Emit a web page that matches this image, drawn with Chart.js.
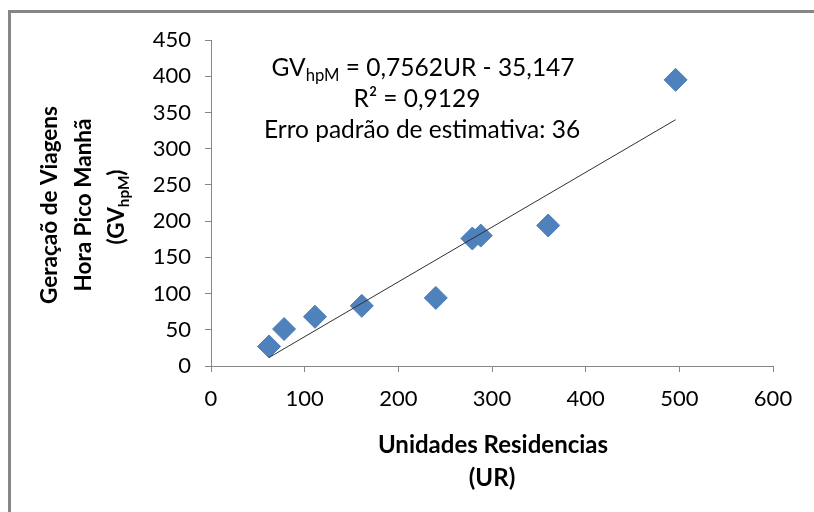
<!DOCTYPE html>
<html>
<head>
<meta charset="utf-8">
<script src="https://cdn.jsdelivr.net/npm/chart.js@4.4.0/dist/chart.umd.min.js"></script>
<style>
  html, body { margin: 0; padding: 0; background: #fff; }
  #wrap { width: 814px; height: 512px; position: relative; }
</style>
</head>
<body>
<div id="wrap"><canvas id="chartjs-0" width="814" height="512"></canvas></div>
<script>
// values
var urValues = [62, 78, 111, 161, 240, 279, 288, 360, 496];
var gvValues = [27, 51, 68, 83, 94, 176, 180, 194, 395];
var xTicks = [0, 100, 200, 300, 400, 500, 600];
var yTicks = [0, 50, 100, 150, 200, 250, 300, 350, 400, 450];

// trendline from the equation on the chart
var slope = 0.7562;
var intercept = -35.147;
var rSquared = "0,9129";
var stdError = "36";

var FONT = "Lato, 'Open Sans', sans-serif";
var GRAY = "#868686";

var points = [];
for (var i = 0; i < urValues.length; i++) {
    points.push({ x: urValues[i], y: gvValues[i] });
}
var xMin = Math.min.apply(null, urValues);
var xMax = Math.max.apply(null, urValues);
var trend = [
    { x: xMin, y: slope * xMin + intercept },
    { x: xMax, y: slope * xMax + intercept }
];

// draws a line made of parts, some of them as subscripts, centred on cx
function drawParts(ctx, parts, cx, cy, size, weight) {
    var total = 0;
    parts.forEach(function (p) {
        ctx.font = weight + " " + (p.sub ? size * 0.68 : size) + "px " + FONT;
        p.w = ctx.measureText(p.t).width;
        total += p.w;
    });
    var x = cx - total / 2;
    parts.forEach(function (p) {
        ctx.font = weight + " " + (p.sub ? size * 0.68 : size) + "px " + FONT;
        ctx.fillText(p.t, x, cy + (p.sub ? size * 0.3 : 0));
        x += p.w;
    });
}

var textPlugin = {
    id: "texts",
    beforeDraw: function (chart) {
        var ctx = chart.ctx;
        ctx.save();
        // frame of the chart (left and top edges)
        ctx.fillStyle = GRAY;
        ctx.fillRect(8, 10, 3, 502);
        ctx.fillRect(8, 10, 806, 3);
        ctx.restore();
    },
    afterDraw: function (chart) {
        var ctx = chart.ctx;
        ctx.save();
        ctx.fillStyle = "#000";
        ctx.textAlign = "left";
        ctx.textBaseline = "middle";

        // equation box
        drawParts(ctx, [{ t: "GV" }, { t: "hpM", sub: true },
            { t: " = " + String(slope).replace(".", ",") + "UR - " + String(-intercept).replace(".", ",") }],
            423, 68, 24.5, "normal");
        drawParts(ctx, [{ t: "R\u00B2 = " + rSquared }], 417, 99, 24.5, "normal");
        drawParts(ctx, [{ t: "Erro padr\u00E3o de estimativa: " + stdError }], 422, 130, 24.5, "normal");

        // x axis title
        drawParts(ctx, [{ t: "Unidades Residencias" }], 493, 445, 24, "bold");
        drawParts(ctx, [{ t: "(UR)" }], 492, 478, 24, "bold");

        // y axis title, rotated
        ctx.translate(0, 205);
        ctx.rotate(-Math.PI / 2);
        drawParts(ctx, [{ t: "Gera\u00E7a\u00F5 de Viagens" }], 0, 50, 22.5, "bold");
        drawParts(ctx, [{ t: "Hora Pico Manh\u00E3" }], 0, 84, 22.5, "bold");
        drawParts(ctx, [{ t: "(GV" }, { t: "hpM", sub: true }, { t: ")" }], -2, 117, 22.5, "bold");
        ctx.restore();
    }
};

var ctx0 = document.getElementById("chartjs-0");
var myChart = new Chart(ctx0, {
    type: "scatter",
    data: {
        datasets: [
            {
                label: "Tendencia",
                type: "line",
                data: trend,
                borderColor: "#303030",
                borderWidth: 1,
                pointRadius: 0,
                fill: false,
                order: 0
            },
            {
                label: "GV",
                data: points,
                pointStyle: "rectRot",
                pointRadius: 11.5,
                pointBackgroundColor: "#4F81BD",
                pointBorderColor: "#4A7CB7",
                pointBorderWidth: 1,
                order: 1
            }
        ]
    },
    options: {
        responsive: false,
        animation: false,
        events: [],
        layout: { padding: { left: 0, top: 40, right: 41, bottom: 0 } },
        plugins: { legend: { display: false }, tooltip: { enabled: false } },
        scales: {
            x: {
                type: "linear",
                min: xTicks[0],
                max: xTicks[xTicks.length - 1],
                afterFit: function (scale) { scale.height = 146; },
                afterBuildTicks: function (scale) {
                    scale.ticks = xTicks.map(function (v) { return { value: v }; });
                },
                border: { color: GRAY, width: 1 },
                grid: { drawOnChartArea: false, color: GRAY, tickLength: 6 },
                ticks: { color: "#000", padding: 14, font: { family: FONT, size: 22 } }
            },
            y: {
                type: "linear",
                min: yTicks[0],
                max: yTicks[yTicks.length - 1],
                afterFit: function (scale) { scale.width = 211; },
                afterBuildTicks: function (scale) {
                    scale.ticks = yTicks.map(function (v) { return { value: v }; });
                },
                border: { color: GRAY, width: 1 },
                grid: { drawOnChartArea: false, color: GRAY, tickLength: 6 },
                ticks: { color: "#000", padding: 14, font: { family: FONT, size: 22 } }
            }
        }
    },
    plugins: [textPlugin]
});
</script>
</body>
</html>
